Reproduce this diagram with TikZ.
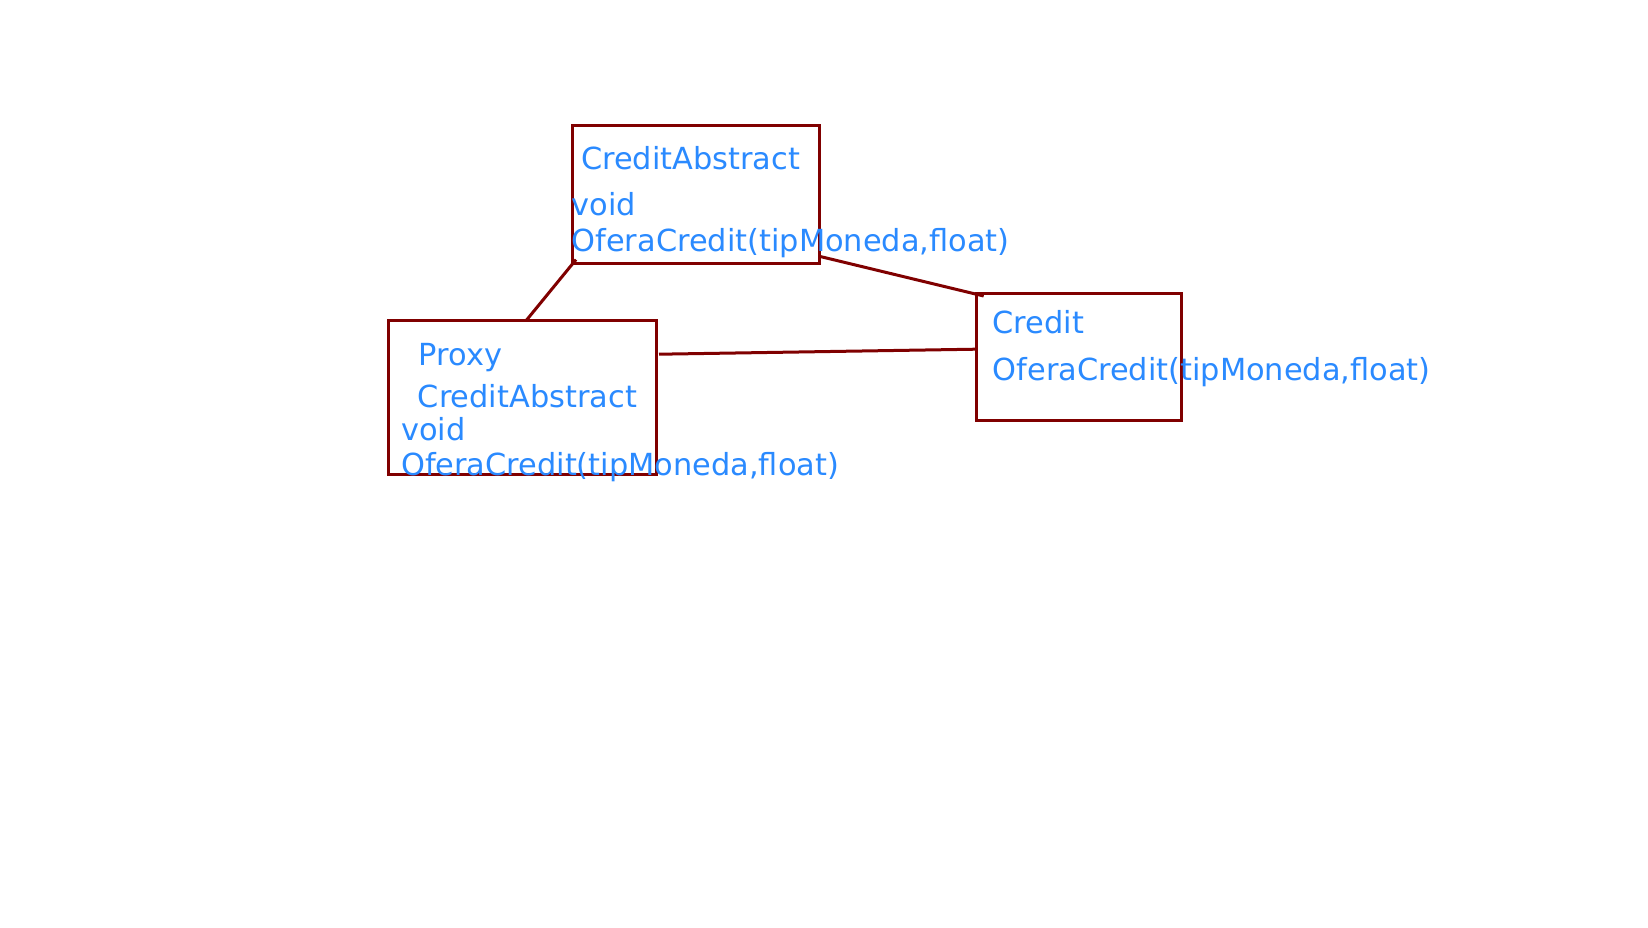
\documentclass[tikz,border=0pt]{standalone}
\usepackage{fontspec}
\setmainfont{DejaVu Sans}
\definecolor{boxred}{RGB}{128,0,0}
\definecolor{txtblue}{RGB}{42,138,255}
\begin{document}
\begin{tikzpicture}[x=0.5pt,y=-0.5pt,
  umlbox/.style={draw=boxred,line width=1.5pt,inner sep=0pt,anchor=north west},
  lbl/.style={text=txtblue,inner sep=0pt,anchor=base west,font=\fontsize{15.2pt}{18pt}\selectfont},
  link/.style={draw=boxred,line width=1.5pt}]
\useasboundingbox[fill=white] (0,0) rectangle (1648,927);
% boxes
\node[umlbox,minimum width=123.3pt,minimum height=69pt] (ca) at (571.2,123.7) {};
\node[umlbox,minimum width=133.7pt,minimum height=76.9pt] (px) at (387.3,319.2) {};
\node[umlbox,minimum width=102.1pt,minimum height=63.5pt] (cr) at (975.3,292) {};
% texts
\node[lbl] (t1) at (580.7,169) {CreditAbstract};
\node[lbl] (t2) at (571.2,215.5) {void};
\node[lbl] (t3) at (571.2,251) {OferaCredit(tipMoneda,float)};
\node[lbl] (t4) at (418.3,365.5) {Proxy};
\node[lbl] (t5) at (417.5,407) {CreditAbstract};
\node[lbl] (t6) at (400.7,440.5) {void};
\node[lbl] (t7) at (400.7,475) {OferaCredit(tipMoneda,float)};
\node[lbl] (t8) at (992.3,333.5) {Credit};
\node[lbl] (t9) at (992.3,380.5) {OferaCredit(tipMoneda,float)};
% connector end points
\coordinate (a1) at (576,259.6);
\coordinate (a2) at (526.6,320);
\coordinate (b1) at (819.8,256.4);
\coordinate (b2) at (983.7,296);
\coordinate (c1) at (659,354.2);
\coordinate (c2) at (975.3,349.2);
\draw[link] (a1) -- (a2);
\draw[link] (b1) -- (b2);
\draw[link] (c1) -- (c2);
\end{tikzpicture}
\end{document}
